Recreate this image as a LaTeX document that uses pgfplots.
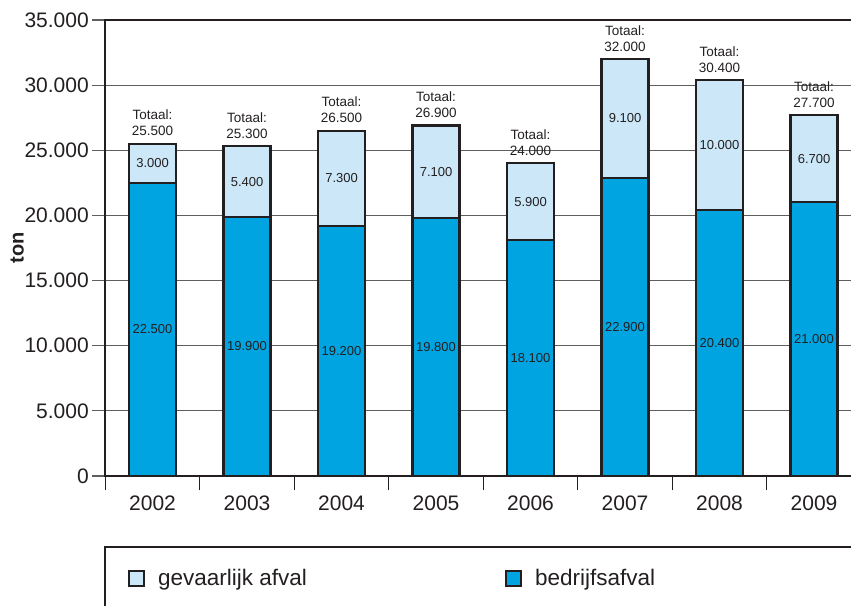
\documentclass[border=0pt]{standalone}
\usepackage{fontspec}
\setmainfont{Liberation Sans}
\usepackage{pgfplots}
\pgfplotsset{compat=1.18}
\definecolor{dblue}{RGB}{0,164,224}
\definecolor{lblue}{RGB}{204,232,248}
\definecolor{outl}{RGB}{35,31,32}
\definecolor{gridc}{RGB}{95,95,95}
\begin{document}
\begin{tikzpicture}
\useasboundingbox (0,0) rectangle (851pt,605pt);
\clip (0,0) rectangle (851pt,605pt);
\begin{axis}[
  at={(105.3pt,129pt)}, anchor=south west,
  scale only axis, width=756pt, height=456pt,
  xmin=-0.5, xmax=7.5, ymin=0, ymax=35000, enlargelimits=false,
  ybar stacked, bar width=47pt,
  axis line style={line width=2.2pt, draw=outl},
  tick align=outside, major tick length=13pt, minor tick length=14pt,
  xtick={0,...,7}, xticklabels={2002,2003,2004,2005,2006,2007,2008,2009},
  minor xtick={-0.5,0.5,...,7.5},
  major x tick style={draw=none},
  minor x tick style={line width=1.2pt, draw=outl},
  xtick pos=bottom, ytick pos=left,
  ytick={0,5000,...,35000},
  ytick style={line width=1.2pt, draw=gridc},
  ymajorgrids, grid style={line width=1.1pt, draw=gridc},
  scaled y ticks=false,
  /pgf/number format/assume math mode=true,
  yticklabel style={/pgf/number format/.cd, fixed, 1000 sep={.}},
  tick label style={font=\fontsize{21}{25}\selectfont, text=outl},
  xticklabel style={yshift=-3pt},
  ylabel={ton},
  every axis y label/.style={at={(axis description cs:0,0.5)}, xshift=-88pt, rotate=90, anchor=center, font=\bfseries\fontsize{20}{24}\selectfont, text=outl},
  legend columns=2, reverse legend,
  legend style={at={(0,0)}, anchor=west, xshift=22.7pt, yshift=-102pt, draw=none, fill=none, inner sep=0pt, font=\fontsize{22.5}{27}\selectfont, text=outl, column sep=13pt, nodes={inner sep=0pt}, /tikz/every even column/.append style={column sep=198pt}},
  legend image code/.code={\draw[#1, line width=2pt] (0pt,-7.5pt) rectangle (15pt,7.5pt);},
]
\addplot[fill=dblue, draw=outl, line width=2.2pt] coordinates {(0,22500) (1,19900) (2,19200) (3,19800) (4,18100) (5,22900) (6,20400) (7,21000)};
\addlegendentry{bedrijfsafval}
\addplot[fill=lblue, draw=outl, line width=2.2pt] coordinates {(0,3000) (1,5400) (2,7300) (3,7100) (4,5900) (5,9100) (6,10000) (7,6700)};
\addlegendentry{gevaarlijk afval}
\end{axis}
\begin{axis}[
  at={(105.3pt,129pt)}, anchor=south west,
  scale only axis, width=756pt, height=456pt,
  xmin=-0.5, xmax=7.5, ymin=0, ymax=35000, enlargelimits=false,
  hide axis, clip=false,
]
\addplot[draw=none, mark=none, nodes near coords, point meta=explicit symbolic,
  every node near coord/.append style={anchor=center, inner sep=0pt, font=\fontsize{13}{15}\selectfont, text=outl}]
  coordinates {(0,11250)[22.500] (1,9950)[19.900] (2,9600)[19.200] (3,9900)[19.800] (4,9050)[18.100] (5,11450)[22.900] (6,10200)[20.400] (7,10500)[21.000]};
\addplot[draw=none, mark=none, nodes near coords, point meta=explicit symbolic,
  every node near coord/.append style={anchor=center, inner sep=0pt, font=\fontsize{13}{15}\selectfont, text=outl}]
  coordinates {(0,24000)[3.000] (1,22600)[5.400] (2,22850)[7.300] (3,23350)[7.100] (4,21050)[5.900] (5,27450)[9.100] (6,25400)[10.000] (7,24350)[6.700]};
\addplot[draw=none, mark=none, nodes near coords={Totaal:\\\pgfplotspointmeta}, point meta=explicit symbolic,
  every node near coord/.append style={anchor=south, align=center, yshift=7.5pt, inner sep=0pt, font=\fontsize{13.5}{16}\selectfont, text=outl}]
  coordinates {(0,25500)[25.500] (1,25300)[25.300] (2,26500)[26.500] (3,26900)[26.900] (4,24000)[24.000] (5,32000)[32.000] (6,30400)[30.400] (7,27700)[27.700]};
\end{axis}
\draw[outl, line width=2.2pt] (105.3pt,-10pt) |- (870pt,58pt);
\end{tikzpicture}
\end{document}
